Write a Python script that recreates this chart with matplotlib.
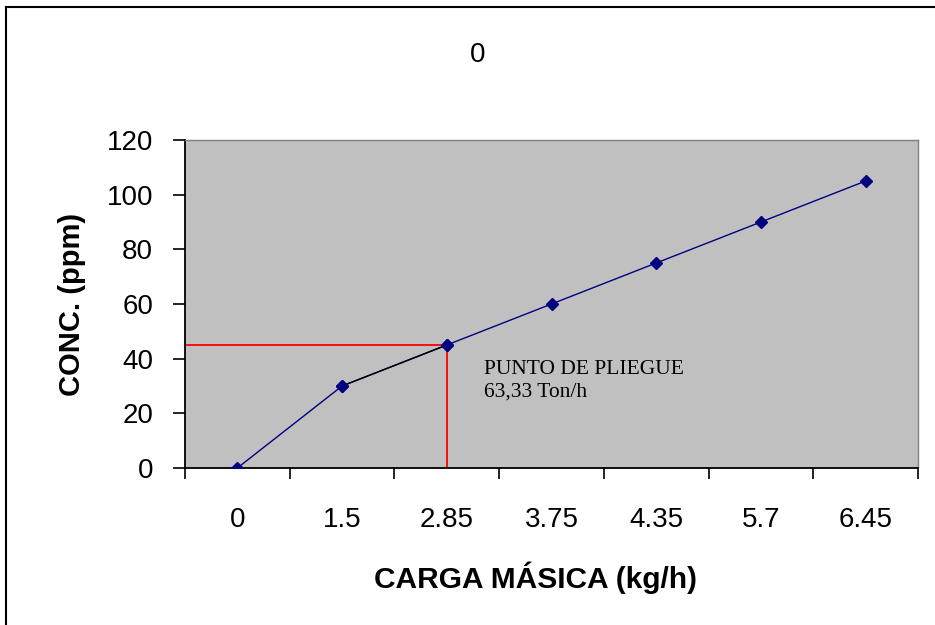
import matplotlib.pyplot as plt
from matplotlib.lines import Line2D
from matplotlib.ticker import FixedLocator, NullFormatter

carga = ['0', '1.5', '2.85', '3.75', '4.35', '5.7', '6.45']
conc = [0, 30, 45, 60, 75, 90, 105]
punto_idx = 2  # fold point at 2.85 kg/h

plt.rcParams['font.family'] = ['Liberation Sans', 'DejaVu Sans']

fig = plt.figure(figsize=(9.35, 6.25), dpi=100)
ax = fig.add_axes([185 / 935, 1 - 468 / 625, 733 / 935, 328 / 625])
ax.set_facecolor('#c0c0c0')

x = list(range(len(carga)))
ax.plot(x, conc, color='#000080', lw=1.0, marker='D', ms=6.5,
        mfc='#000080', mec='#000080', zorder=3)
# segment up to the fold point drawn in black
ax.plot(x[punto_idx - 1:punto_idx + 1], conc[punto_idx - 1:punto_idx + 1],
        color='black', lw=1.0, zorder=3)
for i in (punto_idx - 1, punto_idx):
    ax.plot(x[i], conc[i], marker='D', ms=6.5, color='#000080', zorder=4)

# red guide lines to the fold point
ax.plot([-0.5, x[punto_idx]], [conc[punto_idx], conc[punto_idx]],
        color='red', lw=1.3, zorder=2)
ax.plot([x[punto_idx], x[punto_idx]], [0, conc[punto_idx]],
        color='red', lw=1.3, zorder=2)

ax.text(2.36, 39.5, 'PUNTO DE PLIEGUE\n63,33 Ton/h', family='Liberation Serif',
        fontsize=15.5, va='top', ha='left', linespacing=1.25)

ax.set_xlim(-0.5, len(carga) - 0.5)
ax.set_ylim(0, 120)
ax.set_yticks(range(0, 121, 20))
ax.xaxis.set_major_locator(FixedLocator([i - 0.5 for i in range(len(carga) + 1)]))
ax.xaxis.set_major_formatter(NullFormatter())
ax.xaxis.set_minor_locator(FixedLocator(x))
ax.set_xticklabels(carga, minor=True)
ax.tick_params(axis='x', which='major', direction='out', length=8, width=1.2)
ax.tick_params(axis='x', which='minor', length=0, pad=28, labelsize=20)
ax.tick_params(axis='y', direction='out', length=9, width=1.2, labelsize=20, pad=14)

for s in ('left', 'bottom'):
    ax.spines[s].set_color('black')
    ax.spines[s].set_linewidth(1.3)
for s in ('top', 'right'):
    ax.spines[s].set_color('#808080')
    ax.spines[s].set_linewidth(1.0)

fig.text(478 / 935, 1 - 55 / 625, '0', fontsize=20, ha='center', va='center')
ax.set_xlabel('CARGA MÁSICA (kg/h)', fontsize=21.5, fontweight='bold')
ax.xaxis.set_label_coords((535 - 185) / 733, -(578 - 468) / 328)
ax.xaxis.label.set_va('center')
ax.set_ylabel('CONC. (ppm)', fontsize=21, fontweight='bold', labelpad=15)

# outer chart frame
fig.add_artist(Line2D([6 / 935, 6 / 935], [0, 1 - 7 / 625], color='black', lw=1.5,
                      transform=fig.transFigure))
fig.add_artist(Line2D([6 / 935, 1], [1 - 7 / 625, 1 - 7 / 625], color='black', lw=1.5,
                      transform=fig.transFigure))

fig.savefig('out.png', dpi=100)
